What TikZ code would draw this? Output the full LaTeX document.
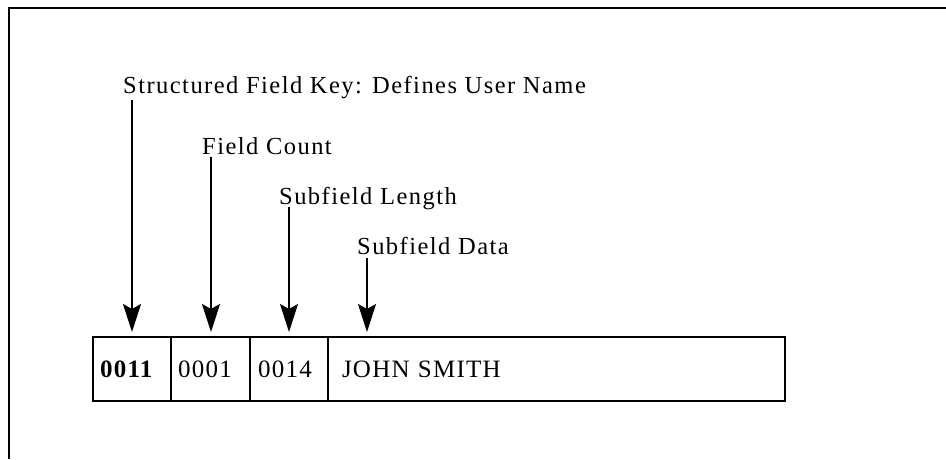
\documentclass[tikz,border=0pt]{standalone}
\usepackage{fontspec}
\setmainfont{Liberation Serif}
\newfontfamily\spacedserif[LetterSpace=5]{Liberation Serif}
\newfontfamily\widerserif[LetterSpace=6]{Liberation Serif}
\usetikzlibrary{arrows.meta}

\begin{document}
\begin{tikzpicture}[x=1pt, y=-1pt,
    fieldtag/.style={anchor=base west, inner sep=0pt, font=\widerserif\fontsize{24.5}{28}\selectfont},
    cellbox/.style={draw, line width=1.6pt, outer sep=0pt, anchor=north west, minimum height=64pt,
                    align=left, font=\spacedserif\fontsize{25}{30}\selectfont},
    pointer/.style={line width=1.5pt, -{Stealth[length=28pt, width=18pt, inset=5pt]}}]
    \useasboundingbox (0,0) rectangle (946,459);
    % Page frame
    \draw[line width=1.8pt] (9,459) -- (9,8) -- (946,8);
    % Record
    \node[cellbox, minimum width=78pt, inner xsep=7pt, text width=64pt] (keycell) at (93,337) {\textbf{0011}};
    \node[cellbox, minimum width=79pt, inner xsep=7pt, text width=65pt] (countcell) at (keycell.north east) {0001};
    \node[cellbox, minimum width=78pt, inner xsep=8pt, text width=62pt] (lengthcell) at (countcell.north east) {0014};
    \node[cellbox, minimum width=457pt, inner xsep=14pt, text width=429pt] (datacell) at (lengthcell.north east) {JOHN SMITH};
    % Labels
    \node[fieldtag] (keytxt) at (123,93) {Structured Field Key: Defines User Name};
    \node[fieldtag] (counttxt) at (202,154) {Field Count};
    \node[fieldtag] (lengthtxt) at (279,204) {Subfield Length};
    \node[fieldtag] (datatxt) at (357,254) {Subfield Data};
    % Arrow tips
    \coordinate (keytip) at (132,332);
    \coordinate (counttip) at (211,332);
    \coordinate (lengthtip) at (289,332);
    \coordinate (datatip) at (367,332);
    % Pointers
    \draw[pointer] ([yshift=-7pt]keytxt.base -| keytip) -- (keytip);
    \draw[pointer] ([yshift=-3pt]counttxt.base -| counttip) -- (counttip);
    \draw[pointer] ([yshift=-3pt]lengthtxt.base -| lengthtip) -- (lengthtip);
    \draw[pointer] ([yshift=-4pt]datatxt.base -| datatip) -- (datatip);
\end{tikzpicture}
\end{document}
